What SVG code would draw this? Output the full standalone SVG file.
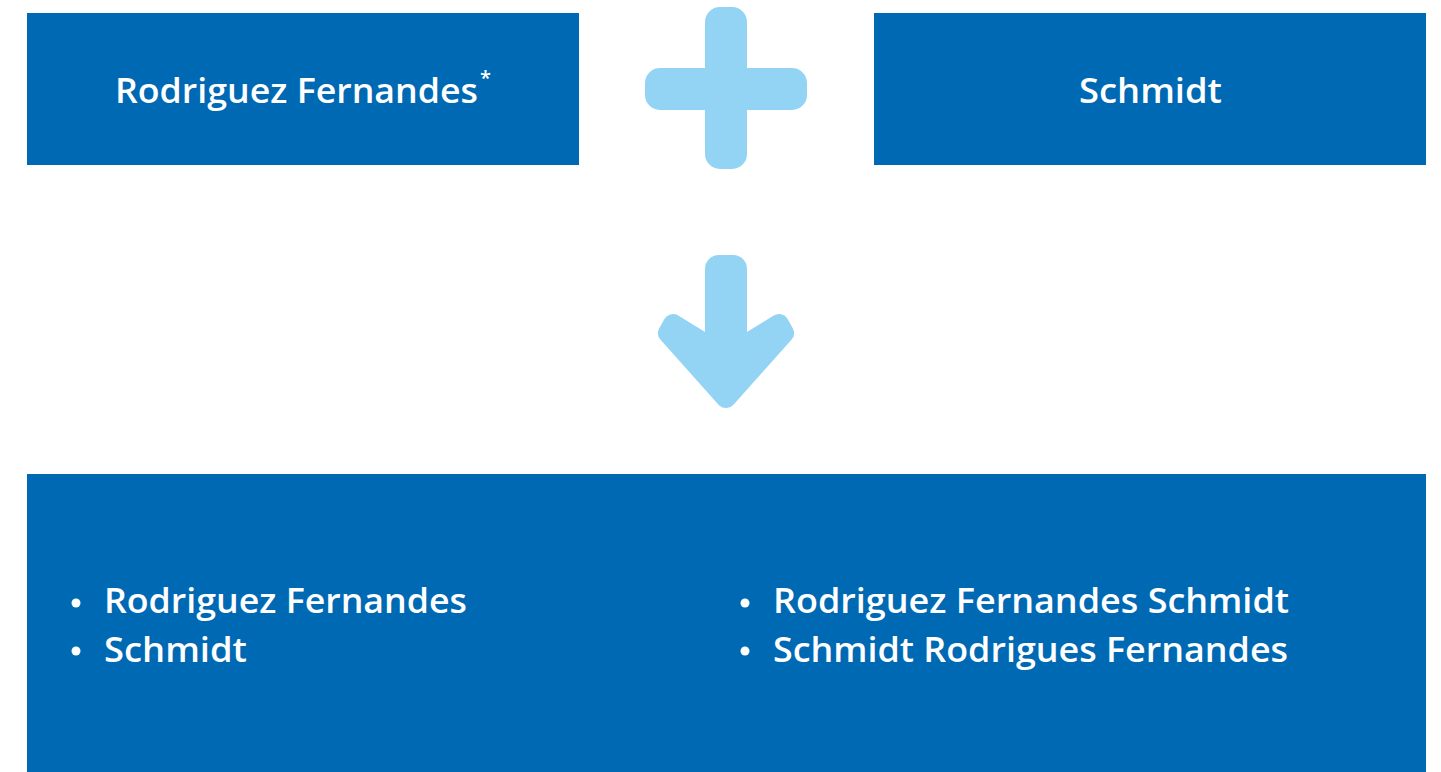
<svg xmlns="http://www.w3.org/2000/svg" width="1441" height="772" viewBox="0 0 1441 772">
<style>
.box{fill:#0069b4}
.sym{fill:#93d3f4}
.t{font-family:"Open Sans","Noto Sans","Liberation Sans",sans-serif;font-weight:600;font-size:35px;fill:#ffffff}
.b{fill:#ffffff}
</style>
<rect width="1441" height="772" fill="#ffffff"/>
<g id="node-left">
<rect class="box" x="27" y="13" width="552" height="152"/>
<text class="t" x="115" y="103" textLength="363" lengthAdjust="spacingAndGlyphs">Rodriguez Fernandes</text>
<text class="t" x="480" y="85" style="font-size:20px">*</text>
</g>
<g id="node-plus">
<rect class="sym" x="705" y="7" width="42" height="162" rx="15"/>
<rect class="sym" x="645" y="68" width="162" height="42" rx="15"/>
</g>
<g id="connectors">
<rect class="sym" x="705" y="255" width="42" height="100" rx="14"/>
<path class="sym" stroke="#93d3f4" stroke-width="20" stroke-linejoin="round" d="M712,348 L740,348 L779,324 L784,333 L726,398 L668,333 L673,324 Z"/>
</g>
<g id="node-right">
<rect class="box" x="874" y="13" width="552" height="152"/>
<text class="t" x="1079" y="103" textLength="143" lengthAdjust="spacingAndGlyphs">Schmidt</text>
</g>
<g id="node-result">
<rect class="box" x="27" y="474" width="1399" height="298"/>
<circle class="b" cx="76" cy="603" r="4.5"/>
<circle class="b" cx="76" cy="651" r="4.5"/>
<text class="t" x="104" y="613" textLength="363" lengthAdjust="spacingAndGlyphs">Rodriguez Fernandes</text>
<text class="t" x="104" y="662" textLength="143" lengthAdjust="spacingAndGlyphs">Schmidt</text>
<circle class="b" cx="745" cy="603" r="4.5"/>
<circle class="b" cx="745" cy="651" r="4.5"/>
<text class="t" x="773" y="613" textLength="516" lengthAdjust="spacingAndGlyphs">Rodriguez Fernandes Schmidt</text>
<text class="t" x="773" y="662" textLength="515" lengthAdjust="spacingAndGlyphs">Schmidt Rodrigues Fernandes</text>
</g>
</svg>
